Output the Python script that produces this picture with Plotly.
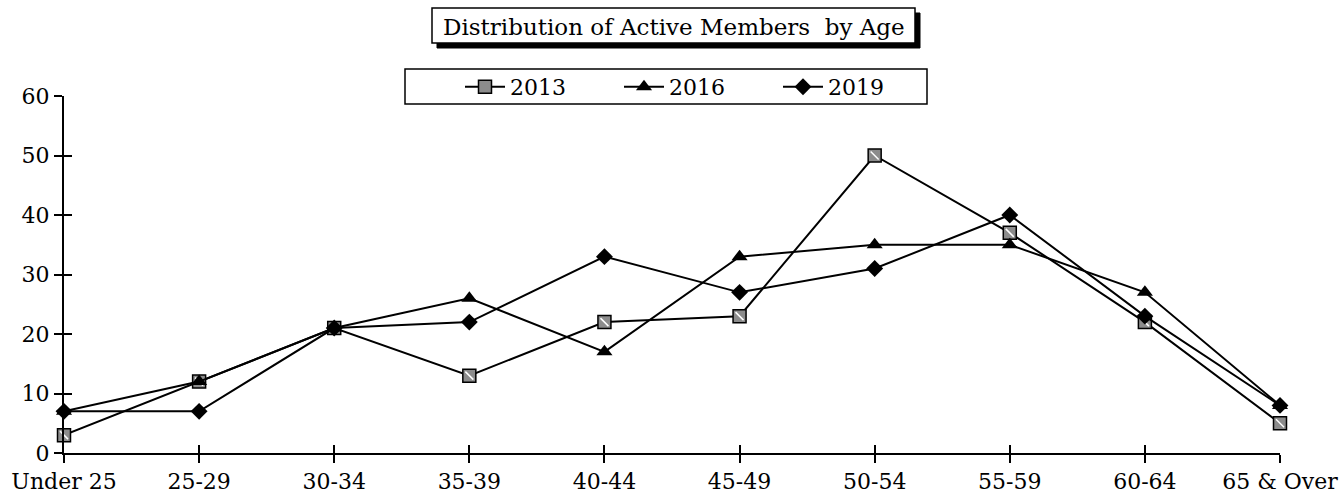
import plotly.graph_objects as go

categories = ["Under 25", "25-29", "30-34", "35-39", "40-44", "45-49", "50-54", "55-59", "60-64", "65 & Over"]
y2013 = [3, 12, 21, 13, 22, 23, 50, 37, 22, 5]
y2016 = [7, 12, 21, 26, 17, 33, 35, 35, 27, 8]
y2019 = [7, 7, 21, 22, 33, 27, 31, 40, 23, 8]
y_ticks = [0, 10, 20, 30, 40, 50, 60]

FONT = "DejaVu Serif"
FS = 22
W, H = 1343, 495
L, R, T, B = 64, 63, 96, 42
PW, PH = W - L - R, H - T - B

xs = list(range(len(categories)))

def px2paper(x, y):
    return (x - L) / PW, (H - B - y) / PH

fig = go.Figure()
fig.add_trace(go.Scatter(x=xs, y=y2013, name="2013", mode="lines+markers",
                         line=dict(color="black", width=2),
                         marker=dict(symbol="square", size=13, color="#8c8c8c",
                                     line=dict(color="black", width=1.5)),
                         cliponaxis=False))
# hatch overlay on the square markers
fig.add_trace(go.Scatter(x=xs, y=y2013, mode="markers", showlegend=False, hoverinfo="skip",
                         marker=dict(symbol="line-nw", size=8,
                                     line=dict(color="white", width=1.5)),
                         cliponaxis=False))
fig.add_trace(go.Scatter(x=xs, y=y2016, name="2016", mode="lines+markers",
                         line=dict(color="black", width=2),
                         marker=dict(symbol="triangle-up", size=14, color="black"),
                         cliponaxis=False))
fig.add_trace(go.Scatter(x=xs, y=y2019, name="2019", mode="lines+markers",
                         line=dict(color="black", width=2),
                         marker=dict(symbol="diamond", size=13, color="black"),
                         cliponaxis=False))

def rect(x0p, y0p, x1p, y1p, fill, lw):
    a0, b0 = px2paper(x0p, y1p)
    a1, b1 = px2paper(x1p, y0p)
    fig.add_shape(type="rect", xref="paper", yref="paper", x0=a0, y0=b0, x1=a1, y1=b1,
                  fillcolor=fill, line=dict(color="black", width=lw), layer="below")

# Title box with shadow
bx0, by0, bx1, by1 = 432, 8, 915, 43
rect(bx0 + 5, by0 + 5, bx1 + 5, by1 + 5, "black", 1)
rect(bx0, by0, bx1, by1, "white", 1.5)
tx, ty = px2paper((bx0 + bx1) / 2, (by0 + by1) / 2 + 1)
fig.add_annotation(text="Distribution of Active Members  by Age", xref="paper", yref="paper",
                   x=tx, y=ty, xanchor="center", yanchor="middle", showarrow=False,
                   font=dict(family=FONT, size=23, color="black"))

# Legend frame
rect(405, 69, 927, 104, "white", 1.5)
lx, ly = px2paper(460, 87)

fig.update_layout(
    width=W, height=H,
    margin=dict(l=L, r=R, t=T, b=B, autoexpand=False),
    paper_bgcolor="white", plot_bgcolor="white",
    font=dict(family=FONT, size=FS, color="black"),
    showlegend=True,
    legend=dict(orientation="h", x=lx, y=ly, xanchor="left", yanchor="middle",
                borderwidth=0, bgcolor="rgba(0,0,0,0)",
                entrywidth=104, font=dict(family=FONT, size=FS), itemwidth=40),
    xaxis=dict(range=[0, len(categories) - 1], tickmode="array", tickvals=xs,
               ticktext=categories, showgrid=False, zeroline=False,
               showline=True, linecolor="black", linewidth=2,
               ticks="outside", ticklen=8, tickwidth=2, tickcolor="black"),
    xaxis2=dict(range=[0, len(categories) - 1], tickmode="array", tickvals=xs,
                showticklabels=False, overlaying="x", side="bottom", anchor="y",
                showgrid=False, zeroline=False, showline=False,
                ticks="inside", ticklen=8, tickwidth=2, tickcolor="black"),
    yaxis=dict(range=[0, 60], tickmode="array", tickvals=y_ticks, showgrid=False,
               zeroline=False, showline=True, linecolor="black", linewidth=2,
               ticks="outside", ticklen=8, tickwidth=2, tickcolor="black"),
    yaxis2=dict(range=[0, 60], tickmode="array", tickvals=y_ticks, showticklabels=False,
                overlaying="y", side="left", anchor="x", showgrid=False, zeroline=False,
                showline=False, ticks="inside", ticklen=8, tickwidth=2, tickcolor="black"),
)
# invisible trace to activate secondary axes
fig.add_trace(go.Scatter(x=[0], y=[0], xaxis="x2", yaxis="y2", mode="markers",
                         marker=dict(opacity=0), showlegend=False, hoverinfo="skip"))

fig.write_html("out.html", config={"displayModeBar": False},
               post_script="document.body.style.margin='0px';document.body.style.overflow='hidden';")
